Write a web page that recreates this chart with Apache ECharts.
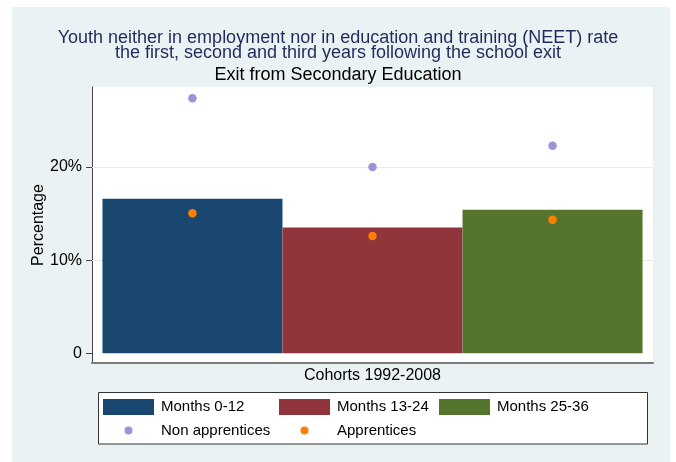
<!DOCTYPE html>
<html><head><meta charset="utf-8">
<script src="https://cdn.jsdelivr.net/npm/echarts@6/dist/echarts.min.js"></script>
<style>html,body{margin:0;padding:0;background:#fff}#c{width:676px;height:462px}</style>
</head><body><div id="c"></div>
<script>
// ---- data ----
const periods = ['Months 0-12', 'Months 13-24', 'Months 25-36'];
const positions = [0, 1, 2];
const allYouth = [16.6, 13.5, 15.4];
const nonApprentices = [27.4, 20.0, 22.3];
const apprentices = [15.05, 12.6, 14.35];
const yTicks = [0, 10, 20];
const barColors = ['#1a476f', '#90353b', '#55752f'];
const font = "'Liberation Sans', Arial, sans-serif";

const chart = echarts.init(document.getElementById('c'), null, {renderer: 'canvas'});

const barSeries = periods.map((name, i) => ({
  name: name,
  type: 'bar',
  barWidth: 180,
  barGap: '-100%',
  itemStyle: {color: barColors[i]},
  data: positions.map((p, j) => j === i ? [p, allYouth[j]] : [p, '-']),
  markLine: i === 0 ? {
    silent: true, symbol: 'none', z: 1,
    label: {show: false},
    lineStyle: {color: '#e3ebeb', width: 1, type: 'solid'},
    data: yTicks.filter(v => v !== 0).map(v => ({yAxis: v}))
  } : undefined
}));

const legendBase = {
  padding: 0, itemGap: 0, selectedMode: false,
  itemWidth: 51, itemHeight: 16,
  textStyle: {fontFamily: font, fontSize: 15, color: '#000', padding: [0, 0, 0, 2]}
};

chart.setOption({
  backgroundColor: '#fff',
  animation: false,
  textStyle: {fontFamily: font},
  title: [
    {
      text: 'Youth neither in employment nor in education and training (NEET) rate\nthe first, second and third years following the school exit',
      left: 'center', top: 30, padding: 0,
      textStyle: {fontFamily: font, fontSize: 18, fontWeight: 'normal', color: '#1f2b5b', lineHeight: 15.5}
    },
    {
      text: 'Exit from Secondary Education',
      left: 'center', top: 66, padding: [0, 0, 0, 68],
      textStyle: {fontFamily: font, fontSize: 18, fontWeight: 'normal', color: '#000'}
    }
  ],
  graphic: [
    {type: 'rect', z: -10, shape: {x: 12, y: 7, width: 658, height: 455}, style: {fill: '#eaf2f3'}},
    {type: 'rect', z: 3, shape: {x: 98.5, y: 392.5, width: 549, height: 51.5}, style: {fill: '#fff', stroke: '#333', lineWidth: 1}}
  ],
  grid: {left: 92, right: 23, top: 87, bottom: 99, show: true, backgroundColor: '#fff', borderWidth: 0},
  xAxis: {
    type: 'value', min: -0.558, max: 2.558,
    name: 'Cohorts 1992-2008', nameLocation: 'middle', nameGap: 5,
    nameTextStyle: {fontFamily: font, fontSize: 16, color: '#000'},
    axisLine: {show: true, onZero: false, lineStyle: {color: '#7a7a7a', width: 2}},
    axisTick: {show: false}, axisLabel: {show: false}, splitLine: {show: false}
  },
  yAxis: {
    type: 'value', min: -1.05, max: 28.6,
    name: 'Percentage', nameLocation: 'middle', nameGap: 45, nameMoveOverlap: false,
    nameTextStyle: {fontFamily: font, fontSize: 16, color: '#000'},
    axisLine: {show: true, onZero: false, lineStyle: {color: '#444', width: 1}},
    axisTick: {show: true, length: 6, customValues: yTicks, lineStyle: {color: '#444'}},
    axisLabel: {customValues: yTicks, margin: 10, fontSize: 16, color: '#000', fontFamily: font,
      formatter: v => v === 0 ? '0' : v + '%'},
    splitLine: {show: false}
  },
  legend: [
    Object.assign({}, legendBase, {data: [periods[0]], left: 103, top: 399, icon: 'rect'}),
    Object.assign({}, legendBase, {data: [periods[1]], left: 279, top: 399, icon: 'rect'}),
    Object.assign({}, legendBase, {data: [periods[2]], left: 439, top: 399, icon: 'rect'}),
    Object.assign({}, legendBase, {data: ['Non apprentices'], left: 124.5, top: 423, icon: 'circle', itemHeight: 8}),
    Object.assign({}, legendBase, {data: ['Apprentices'], left: 300.5, top: 423, icon: 'circle', itemHeight: 8})
  ],
  series: barSeries.concat([
    {name: 'Non apprentices', type: 'scatter', symbolSize: 8.5, itemStyle: {color: '#9b94d8', opacity: 1},
      data: positions.map((p, j) => [p, nonApprentices[j]])},
    {name: 'Apprentices', type: 'scatter', symbolSize: 8.5, itemStyle: {color: '#ff8000', opacity: 1},
      data: positions.map((p, j) => [p, apprentices[j]])}
  ])
});
</script></body></html>
